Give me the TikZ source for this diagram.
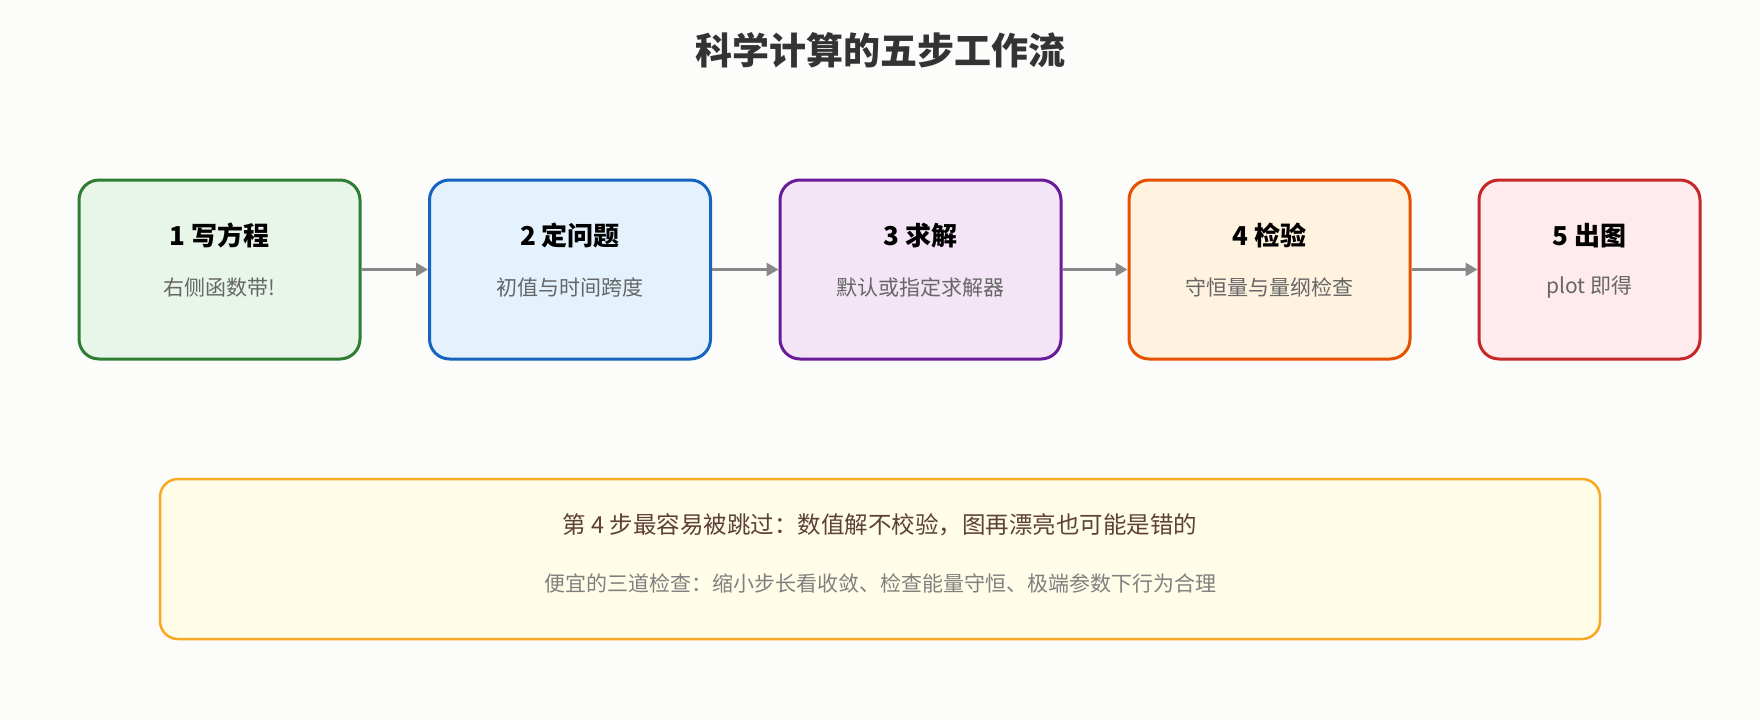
\documentclass[tikz,border=0pt]{standalone}
\usepackage{fontspec}
\setmainfont{Noto Sans CJK SC}
\usetikzlibrary{arrows.meta}

\definecolor{bgc}{HTML}{FCFCFA}
\definecolor{grnL}{HTML}{2E7D32}\definecolor{grnF}{HTML}{E8F5E9}
\definecolor{bluL}{HTML}{1565C0}\definecolor{bluF}{HTML}{E3F2FD}
\definecolor{purL}{HTML}{6A1B9A}\definecolor{purF}{HTML}{F3E5F5}
\definecolor{orgL}{HTML}{E65100}\definecolor{orgF}{HTML}{FFF3E0}
\definecolor{redL}{HTML}{C62828}\definecolor{redF}{HTML}{FFEBEE}
\definecolor{notL}{HTML}{F9A825}\definecolor{notF}{HTML}{FFFDE7}
\definecolor{arrC}{HTML}{888888}

\tikzset{
	step/.style={draw=#1L, fill=#1F, line width=3pt, rounded corners=20pt, minimum height=179pt, inner sep=0pt},
	stitle/.style={font=\fontsize{26}{30}\selectfont\bfseries, text=black},
	ssub/.style={font=\fontsize{21}{25}\selectfont, text=black!60},
	flow/.style={draw=arrC, line width=3pt, -{Triangle[length=12pt,width=13pt]}}
}

\begin{document}
\begin{tikzpicture}[x=1pt, y=-1pt]
		\fill[bgc] (0,0) rectangle (1760,720);
		\node[font=\fontsize{37}{42}\selectfont\bfseries, text=black!80] (title) at (880,50) {科学计算的五步工作流};
		% steps
		\node[step=grn, minimum width=281pt] (s1) at (219.5,269.5) {};
		\node[step=blu, minimum width=281pt] (s2) at (570,269.5) {};
		\node[step=pur, minimum width=281pt] (s3) at (920.5,269.5) {};
		\node[step=org, minimum width=281pt] (s4) at (1269.5,269.5) {};
		\node[step=red, minimum width=221pt] (s5) at (1589.5,269.5) {};
		\foreach \n/\t/\s in {1/1 写方程/右侧函数带!, 2/2 定问题/初值与时间跨度, 3/3 求解/默认或指定求解器, 4/4 检验/守恒量与量纲检查, 5/5 出图/plot 即得}{
			\node[stitle] (t\n) at ([yshift=34pt]s\n.center) {\t};
			\node[ssub] (u\n) at ([yshift=-18pt]s\n.center) {\s};
		}
		\foreach \a/\b in {s1/s2, s2/s3, s3/s4, s4/s5}
			\draw[flow] (\a.east) -- (\b.west);
		% note
		\node[draw=notL, fill=notF, line width=2.5pt, rounded corners=18pt, minimum width=1440pt, minimum height=160pt] (note) at (880,559) {};
		\node[font=\fontsize{23.5}{28}\selectfont, text={rgb,255:red,93;green,64;blue,55}] (n1) at (880,525) {第 4 步最容易被跳过：数值解不校验，图再漂亮也可能是错的};
		\node[font=\fontsize{21}{25}\selectfont, text=black!50] (n2) at (880,583) {便宜的三道检查：缩小步长看收敛、检查能量守恒、极端参数下行为合理};
	\end{tikzpicture}
\end{document}
